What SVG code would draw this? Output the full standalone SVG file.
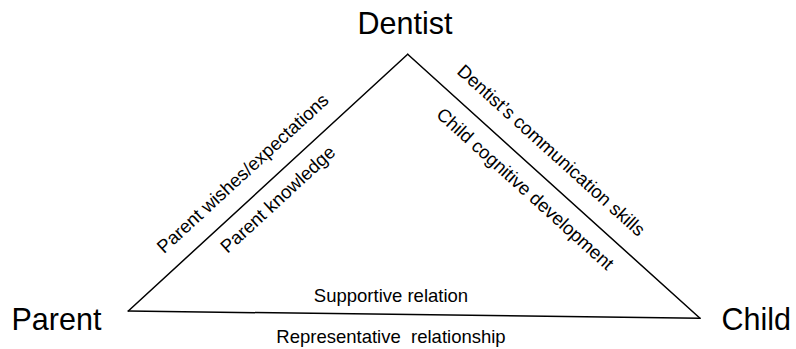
<svg xmlns="http://www.w3.org/2000/svg" width="796" height="349" viewBox="0 0 796 349">
  <style>
    .node { font-family: "Liberation Sans", Arial, sans-serif; font-size: 30.5px; fill: #000; }
    .lbl { font-family: "Liberation Sans", Arial, sans-serif; font-size: 18.5px; fill: #000; text-anchor: middle; }
    .edge { stroke: #000; stroke-width: 1.5; fill: none; stroke-linecap: round; }
  </style>
  <rect width="796" height="349" fill="#fff"/>

  <!-- Triangle sides with their labels -->
  <g id="connectors">
    <line class="edge" x1="128.3" y1="311" x2="407.7" y2="54.3"/>
    <line class="edge" x1="407.7" y1="54.3" x2="700" y2="318.3"/>
    <line class="edge" x1="128.3" y1="311" x2="700" y2="318.3"/>

    <text class="lbl" transform="translate(247,178) rotate(-42.6)">Parent wishes/expectations</text>
    <text class="lbl" transform="translate(282,204) rotate(-42.6)">Parent knowledge</text>
    <text class="lbl" transform="translate(547,155) rotate(42.1)">Dentist’s communication skills</text>
    <text class="lbl" transform="translate(521,193.5) rotate(42.1)">Child cognitive development</text>
    <text class="lbl" x="391" y="302">Supportive relation</text>
    <text class="lbl" x="391" y="343" xml:space="preserve">Representative  relationship</text>
  </g>

  <g id="dentist">
    <text class="node" x="405" y="34" text-anchor="middle">Dentist</text>
  </g>
  <g id="parent">
    <text class="node" x="11.5" y="330">Parent</text>
  </g>
  <g id="child">
    <text class="node" x="721.5" y="330">Child</text>
  </g>
</svg>
